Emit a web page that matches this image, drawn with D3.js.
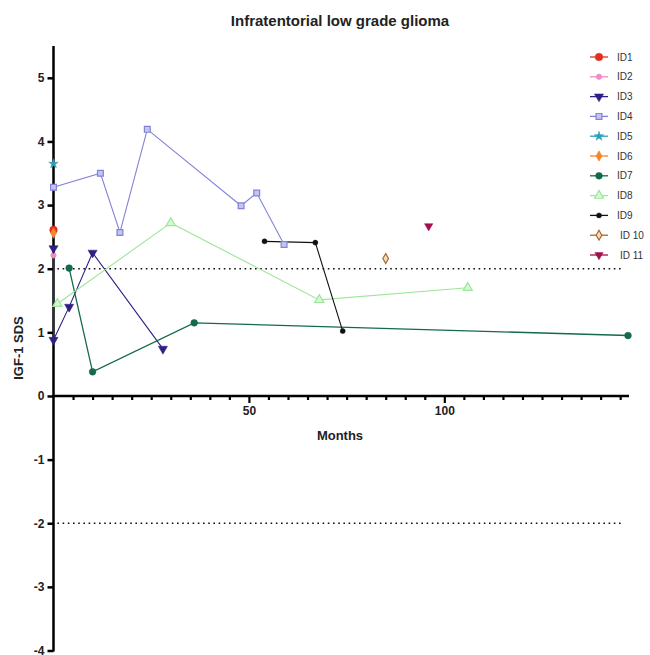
<!DOCTYPE html>
<html>
<head>
<meta charset="utf-8">
<script src="https://cdn.jsdelivr.net/npm/d3@7"></script>
<style>
  body { margin: 0; background: #fff; }
  svg { font-family: "Liberation Sans", Arial, sans-serif; }
</style>
</head>
<body>
<div id="chart"></div>
<script>
// patient series, months since diagnosis vs IGF-1 SDS
const ids = ["ID1", "ID2", "ID3", "ID4", "ID5", "ID6", "ID7", "ID8", "ID9", "ID 10", "ID 11"];
const months = [
  [0],
  [0],
  [0, 0, 4, 10, 28],
  [0, 12, 17, 24, 48, 52, 59],
  [0],
  [0],
  [4, 10, 36, 147],
  [1, 30, 68, 106],
  [54, 67, 74],
  [85],
  [96]
];
const sds = [
  [2.61],
  [2.21],
  [2.32, 0.88, 1.40, 2.25, 0.74],
  [3.28, 3.50, 2.57, 4.19, 2.99, 3.19, 2.38],
  [3.65],
  [2.56],
  [2.01, 0.38, 1.15, 0.95],
  [1.45, 2.72, 1.51, 1.70],
  [2.43, 2.41, 1.02],
  [2.16],
  [2.67]
];
const refLines = [2, -2];
const xTicks = d3.range(0, 150, 5);
const xLabels = [50, 100];
const yTicks = d3.range(-4, 6, 1);

// styling per series
const colors = ["#e0301e", "#f08cc0", "#2e1f86", "#8282d6", "#2a9fb8", "#f5862a",
                "#136b48", "#9ee69a", "#111111", "#a5692a", "#a3104e"];
const shapes = [d3.symbolCircle, d3.symbolCircle, d3.symbolTriangle, d3.symbolSquare, d3.symbolStar,
                d3.symbolDiamond, d3.symbolCircle, d3.symbolTriangle, d3.symbolCircle, d3.symbolDiamond, d3.symbolTriangle];
const sizes = [46, 24, 36, 34, 28, 32, 36, 36, 20, 28, 30];
const flipped = [false, false, true, false, false, false, false, false, false, false, true];
const fills = ["#e0301e", "#f08cc0", "#2e1f86", "#c4c4f0", "#2a9fb8", "#f5862a",
               "#136b48", "#d6f7d4", "#111111", "#f3dcc0", "#a3104e"];

const width = 650, height = 655;
const svg = d3.select("#chart").append("svg")
  .attr("width", width)
  .attr("height", height);

const x = d3.scaleLinear().domain([0, 147]).range([53.5, 628]);
const y = d3.scaleLinear().domain([-4, 5.5]).range([650.5, 46]);

// title and axis titles
svg.append("text")
  .attr("x", 340).attr("y", 26)
  .attr("text-anchor", "middle")
  .attr("font-weight", "bold")
  .attr("font-size", 15)
  .attr("fill", "#222")
  .text("Infratentorial low grade glioma");

svg.append("text")
  .attr("x", 340).attr("y", 440)
  .attr("text-anchor", "middle")
  .attr("font-weight", "bold")
  .attr("font-size", 13)
  .attr("fill", "#222")
  .text("Months");

svg.append("text")
  .attr("transform", "translate(23,348) rotate(-90)")
  .attr("text-anchor", "middle")
  .attr("font-weight", "bold")
  .attr("font-size", 13)
  .attr("fill", "#222")
  .text("IGF-1 SDS");

// y axis
const yAxis = g => g
  .attr("transform", `translate(${x(0)},0)`)
  .call(d3.axisLeft(y).tickValues(yTicks).tickSize(6).tickPadding(3).tickFormat(d => String(d)))
  .call(g => g.select(".domain").attr("stroke-width", 2.5).attr("d", `M0,${y(-4) + 1}V${y(5.5)}`))
  .call(g => g.selectAll(".tick line").attr("stroke-width", 2.5))
  .call(g => g.selectAll(".tick text")
    .attr("font-size", 12).attr("font-weight", "bold").attr("fill", "#222")
    .attr("font-family", "Liberation Sans, Arial, sans-serif"));

// x axis at y = 0
const xAxis = g => g
  .attr("transform", `translate(0,${y(0)})`)
  .call(d3.axisBottom(x).tickValues(xTicks).tickSizeOuter(0)
    .tickFormat(d => xLabels.includes(d) ? String(d) : ""))
  .call(g => g.select(".domain").attr("stroke-width", 2.5).attr("d", `M${x(0)},0H${x(147) + 1}`))
  .call(g => g.selectAll(".tick line")
    .attr("stroke-width", 2.2)
    .attr("y2", d => xLabels.includes(d) ? 7 : 4))
  .call(g => g.selectAll(".tick").filter(d => d === 0).remove())
  .call(g => g.selectAll(".tick text")
    .attr("y", 11)
    .attr("font-size", 12).attr("font-weight", "bold").attr("fill", "#222")
    .attr("font-family", "Liberation Sans, Arial, sans-serif"));

svg.append("g").call(xAxis);
svg.append("g").call(yAxis);

// dotted reference lines
svg.append("g")
  .selectAll("line")
  .data(refLines)
  .join("line")
    .attr("x1", x(1)).attr("x2", x(146))
    .attr("y1", d => y(d)).attr("y2", d => y(d))
    .attr("stroke", "#111")
    .attr("stroke-width", 1.6)
    .attr("stroke-dasharray", "1.6,3.6");

// series
const series = ids.map((id, i) => ({
  id, i,
  points: months[i].map((m, j) => ({ m, v: sds[i][j] }))
}));

const line = d3.line().x(d => x(d.m)).y(d => y(d.v));

svg.append("g")
  .attr("fill", "none")
  .selectAll("path")
  .data(series.filter(s => s.points.length > 1))
  .join("path")
    .attr("d", s => line(s.points))
    .attr("stroke", s => colors[s.i])
    .attr("stroke-width", s => s.i === 6 ? 1.3 : 1.1);

const marker = (sel, i) => sel
  .attr("d", d3.symbol().type(shapes[i]).size(sizes[i]))
  .attr("fill", fills[i])
  .attr("stroke", colors[i])
  .attr("stroke-width", (i === 3 || i === 7 || i === 9) ? 1.2 : 0.5);

series.forEach(s => {
  svg.append("g")
    .selectAll("path")
    .data(s.points)
    .join("path")
      .attr("transform", d => `translate(${x(d.m)},${y(d.v)})${flipped[s.i] ? " rotate(180)" : ""}`)
      .call(marker, s.i);
});

// legend
const legend = svg.append("g")
  .selectAll("g")
  .data(series)
  .join("g")
    .attr("transform", (s, k) => `translate(590,${57 + k * 19.8})`);

legend.append("line")
  .attr("x1", 0).attr("x2", 18)
  .attr("stroke", s => colors[s.i])
  .attr("stroke-width", 1.3);

legend.append("path")
  .attr("transform", s => `translate(9,0)${flipped[s.i] ? " rotate(180)" : ""}`)
  .each(function(s) { d3.select(this).call(marker, s.i); });

legend.append("text")
  .attr("x", s => s.i >= 9 ? 30 : 27)
  .attr("dy", "0.35em")
  .attr("font-size", 10)
  .attr("fill", "#333")
  .text(s => s.id);
</script>
</body>
</html>
